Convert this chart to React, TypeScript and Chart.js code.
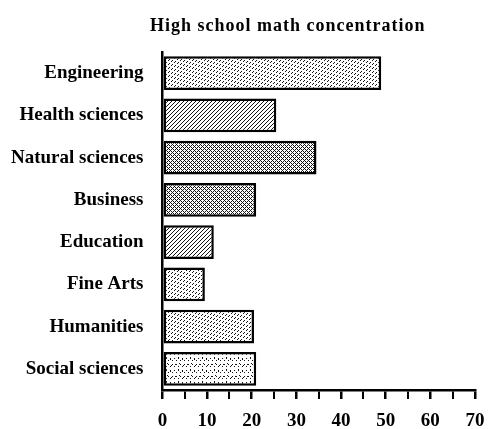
import React, { useEffect, useRef } from "react";
import { Chart, registerables } from "chart.js";

Chart.register(...registerables);

const chartTitle = "High school math concentration";
const categories = [
  "Engineering",
  "Health sciences",
  "Natural sciences",
  "Business",
  "Education",
  "Fine Arts",
  "Humanities",
  "Social sciences",
];
const values = [49, 25.5, 34.5, 21, 11.5, 9.5, 20.5, 21];
const xTickLabels = [0, 10, 20, 30, 40, 50, 60, 70];
// texture darkness per bar (style only)
const textureLevels = [1, 2, 3, 3, 2, 1, 1, 0];

const FONT = "'Liberation Serif', 'Times New Roman', serif";

function makePattern(ctx: CanvasRenderingContext2D, level: number): CanvasPattern | string {
  const size = 12;
  const c = document.createElement("canvas");
  c.width = size;
  c.height = size;
  const g = c.getContext("2d");
  if (!g) return "#bbb";
  const img = g.createImageData(size, size);
  for (let y = 0; y < size; y++) {
    for (let x = 0; x < size; x++) {
      let on = false;
      const d1 = (x + y) % 4 === 0;
      const d2 = (x - y + size * 2) % 4 === 0;
      if (level === 3) on = d1 || (d2 && (x + y) % 2 === 0) || (d2 && y % 3 !== 1);
      else if (level === 2) on = d1 || (d2 && y % 2 === 0);
      else if (level === 1) on = (d1 && x % 3 !== 2) || (d2 && (x % 6 === 0));
      else on = (d1 && x % 2 === 0 && y % 3 !== 2) || ((x * 7 + y * 5) % 23 === 0);
      const v = on ? 20 : 255;
      const i = (y * size + x) * 4;
      img.data[i] = v;
      img.data[i + 1] = v;
      img.data[i + 2] = v;
      img.data[i + 3] = 255;
    }
  }
  g.putImageData(img, 0, 0);
  return ctx.createPattern(c, "repeat") || "#bbb";
}

const titlePlugin = {
  id: "offsetTitle",
  afterDraw(chart: any) {
    const ctx = chart.ctx as CanvasRenderingContext2D;
    const { left, right } = chart.chartArea;
    ctx.save();
    ctx.font = `bold 18px ${FONT}`;
    (ctx as any).letterSpacing = "1px";
    ctx.fillStyle = "#000";
    ctx.textAlign = "center";
    ctx.textBaseline = "alphabetic";
    ctx.fillText(chartTitle, (left + right) / 2 - 31, 31);
    ctx.restore();
  },
};

export default function App() {
  const canvasRef = useRef<HTMLCanvasElement | null>(null);

  useEffect(() => {
    const canvas = canvasRef.current;
    if (!canvas) return;
    const ctx = canvas.getContext("2d");
    if (!ctx) return;
    const patterns = textureLevels.map((l) => makePattern(ctx, l));

    const chart = new Chart(ctx, {
      type: "bar",
      data: {
        labels: categories,
        datasets: [
          {
            data: values,
            backgroundColor: patterns as any,
            borderColor: "#000",
            borderWidth: 2.5,
            borderSkipped: false,
            barPercentage: 0.8,
            categoryPercentage: 1,
          },
        ],
      },
      options: {
        indexAxis: "y",
        animation: false,
        responsive: true,
        maintainAspectRatio: false,
        layout: { padding: { top: 52, right: 0, left: 0, bottom: -15 } },
        plugins: {
          legend: { display: false },
          tooltip: { enabled: false },
          title: { display: false },
        },
        scales: {
          x: {
            type: "linear",
            min: 0,
            max: 70,
            afterFit: (scale: any) => {
              scale.paddingRight = 14;
            },
            ticks: {
              stepSize: 5,
              autoSkip: false,
              maxRotation: 0,
              color: "#000",
              padding: 13,
              font: { family: FONT, size: 19, weight: "bold", lineHeight: 1 },
              callback: (v: any) => (xTickLabels.includes(Number(v)) ? String(v) : ""),
            },
            grid: {
              display: true,
              drawOnChartArea: false,
              drawTicks: true,
              tickLength: 9,
              color: "#000",
              lineWidth: (c: any) => (c.tick && xTickLabels.includes(c.tick.value) ? 2.5 : 2),
            },
            border: { display: true, color: "#000", width: 2.5 },
          },
          y: {
            type: "category",
            ticks: {
              color: "#000",
              padding: 11,
              font: { family: FONT, size: 19, weight: "bold" },
            },
            grid: { display: false },
            border: { display: true, color: "#000", width: 2.5 },
          },
        },
      },
      plugins: [titlePlugin],
    });
    return () => chart.destroy();
  }, []);

  return (
    <div
      style={{
        position: "fixed",
        left: 0,
        top: 0,
        width: 489,
        height: 429,
        background: "#fff",
      }}
    >
      <canvas ref={canvasRef} />
    </div>
  );
}
